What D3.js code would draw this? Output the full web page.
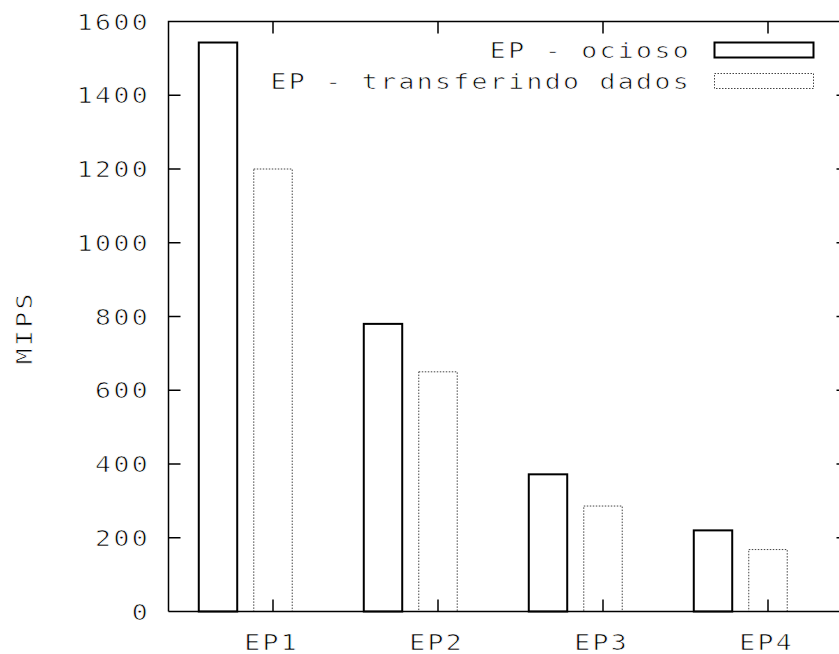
<!DOCTYPE html>
<html>
<head>
<meta charset="utf-8">
<script src="https://cdn.jsdelivr.net/npm/d3@7"></script>
<style>
  html, body { margin: 0; padding: 0; background: #fff; }
  svg { display: block; }
  text {
    font-family: "DejaVu Sans Mono", "Liberation Mono", monospace;
    fill: #000;
    stroke: #fff;
    stroke-width: 0.7px;
  }
</style>
</head>
<body>
<svg id="chart" width="839" height="654"></svg>
<script>
// Processor throughput per processing element (MIPS)
const categories = ["EP1", "EP2", "EP3", "EP4"];
const seriesNames = ["EP - ocioso", "EP - transferindo dados"];
const idleValues = [1543, 780, 372, 220];
const transferValues = [1200, 650, 286, 168];
const yTicks = [0, 200, 400, 600, 800, 1000, 1200, 1400, 1600];
const yLabel = "MIPS";

const W = 839, H = 654;
const frame = { left: 168.5, right: 838.5, top: 21.5, bottom: 611.5 };
const FS = 22, LS = 2.0, SX = 1.2;   // monospaced text, horizontally stretched
const tickLen = 12;

const svg = d3.select("#chart");

const y = d3.scaleLinear().domain([0, 1600]).range([frame.bottom, frame.top]);
// category index -> pixel centre (transfer bar sits on the tick, idle bar to its left)
const x = d3.scaleLinear().domain([0, 3]).range([273, 768]);
const unit = x(1) - x(0);
const barW = 0.233 * unit;

const series = [
  { name: seriesNames[0], values: idleValues, offset: -1 / 3,
    style: { stroke: "#000", width: 2, dash: null } },
  { name: seriesNames[1], values: transferValues, offset: 0,
    style: { stroke: "#444", width: 1, dash: "1.5,1.5" } }
];

// stretched label helper
function label(parent, str, px, py, anchor, rot = 0) {
  const g = parent.append("g")
    .attr("transform", `translate(${px},${py}) rotate(${rot}) scale(${SX},1)`);
  g.append("text")
    .attr("text-anchor", anchor)
    .attr("font-size", FS)
    .attr("letter-spacing", LS)
    .text(str);
  return g;
}
const trailEnd = (LS + 1.3) * SX;   // trailing spacing + side bearing after last glyph
const trailMid = LS * SX / 2;

// bars
series.forEach(s => {
  svg.append("g").selectAll("rect")
    .data(s.values)
    .join("rect")
    .attr("x", (d, i) => x(i + s.offset) - barW / 2)
    .attr("width", barW)
    .attr("y", d => y(d))
    .attr("height", d => y(0) - y(d))
    .attr("fill", "none")
    .attr("stroke", s.style.stroke)
    .attr("stroke-width", s.style.width)
    .attr("stroke-dasharray", s.style.dash);
});

// frame (left, top, bottom)
svg.append("path")
  .attr("d", `M${frame.left},${frame.bottom}V${frame.top}H${W}M${frame.left},${frame.bottom}H${W}`)
  .attr("fill", "none").attr("stroke", "#000").attr("stroke-width", 1.5);

// y ticks, left side inward and right side stubs
const yAxis = svg.append("g");
yAxis.selectAll("line.l").data(yTicks.slice(1, -1)).join("line").attr("class", "l")
  .attr("x1", frame.left).attr("x2", frame.left + tickLen)
  .attr("y1", d => y(d)).attr("y2", d => y(d))
  .attr("stroke", "#000").attr("stroke-width", 1.5);
yAxis.selectAll("line.r").data(yTicks.slice(1, -1)).join("line").attr("class", "r")
  .attr("x1", frame.right - 2).attr("x2", W)
  .attr("y1", d => y(d)).attr("y2", d => y(d))
  .attr("stroke", "#000").attr("stroke-width", 1.5);
yTicks.forEach(t => label(yAxis, d3.format("d")(t), 146 + trailEnd, y(t) + 8, "end"));

// x ticks, bottom and top
const xAxis = svg.append("g");
xAxis.selectAll("line.b").data(categories).join("line").attr("class", "b")
  .attr("x1", (d, i) => x(i)).attr("x2", (d, i) => x(i))
  .attr("y1", frame.bottom).attr("y2", frame.bottom - tickLen)
  .attr("stroke", "#000").attr("stroke-width", 1.5);
xAxis.selectAll("line.t").data(categories).join("line").attr("class", "t")
  .attr("x1", (d, i) => x(i)).attr("x2", (d, i) => x(i))
  .attr("y1", frame.top).attr("y2", frame.top + tickLen)
  .attr("stroke", "#000").attr("stroke-width", 1.5);
categories.forEach((c, i) => label(xAxis, c, x(i) - 2.6 + trailMid, 650, "middle"));

// y axis title
label(svg, yLabel, 32, 329 - trailMid, "middle", -90);

// legend
const legend = svg.append("g");
const legendRows = [58, 89];
series.forEach((s, k) => {
  const by = legendRows[k];
  label(legend, s.name, 687 + trailEnd, by, "end");
  legend.append("rect")
    .attr("x", 714.5).attr("y", by - 15.5)
    .attr("width", 99).attr("height", 15)
    .attr("fill", "none")
    .attr("stroke", s.style.stroke)
    .attr("stroke-width", s.style.width)
    .attr("stroke-dasharray", s.style.dash);
});
</script>
</body>
</html>
